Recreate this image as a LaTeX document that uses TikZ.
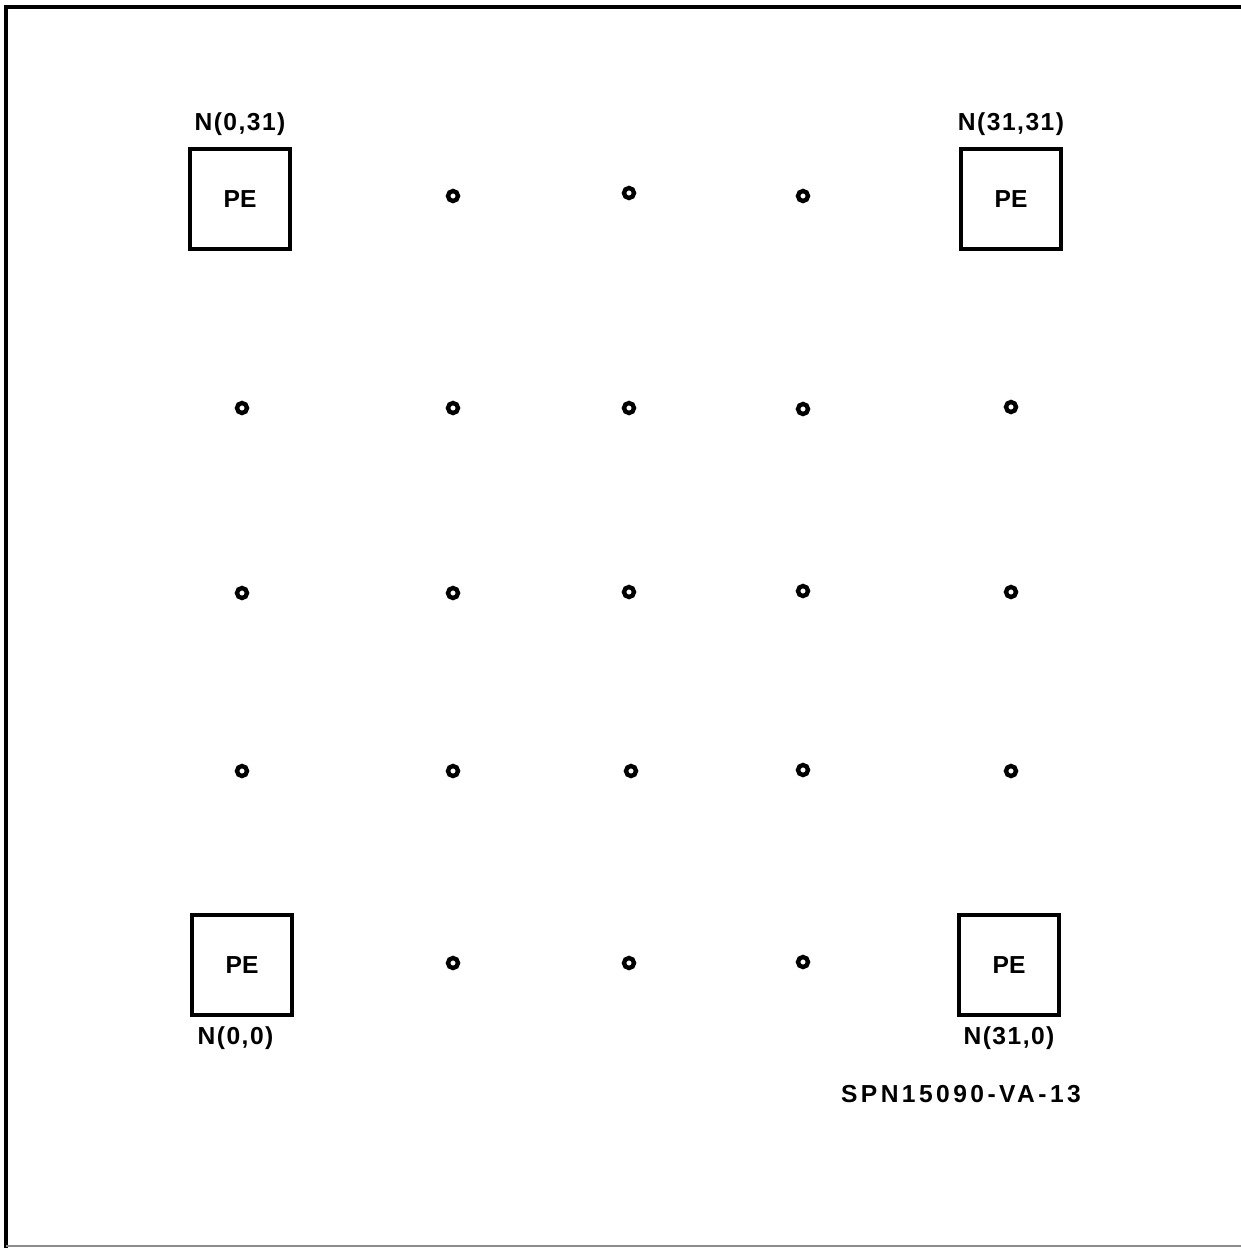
\documentclass[tikz,border=0pt]{standalone}
\usepackage{fontspec}
\setmainfont{Liberation Sans}
\usetikzlibrary{positioning}

\begin{document}
\begin{tikzpicture}[x=0.02cm,y=-0.02cm,
  pe/.style={draw,line width=2.6pt,minimum size=2cm,inner sep=0pt,font=\fontsize{14}{16}\selectfont\bfseries},
  dot/.style={draw,circle,line width=2.5pt,minimum size=0.2cm,inner sep=0pt},
  lbl/.style={font=\fontsize{14}{16}\selectfont\bfseries\addfontfeature{LetterSpace=6}},
  tag/.style={font=\fontsize{14}{16}\selectfont\bfseries\addfontfeature{LetterSpace=14}}]
\useasboundingbox (0,0) rectangle (1241,1248);
\draw[line width=2pt] (1241,7) -- (6,7) -- (6,1248);
\draw[black!45,line width=0.8pt] (6,1246) -- (1241,1246);
% corner processing elements
\node[pe] (pe0031) at (240,199) {PE};
\node[pe] (pe3131) at (1011,199) {PE};
\node[pe] (pe0000) at (242,965) {PE};
\node[pe] (pe3100) at (1009,965) {PE};
\node[lbl,above=3pt of pe0031] (n0031) {N(0,31)};
\node[lbl,above=3pt of pe3131] (n3131) {N(31,31)};
\node[lbl,below=2pt of pe0000.south west,anchor=north west,xshift=1pt] (n0000) {N(0,0)};
\node[lbl,below=2pt of pe3100] (n3100) {N(31,0)};
\node[tag] (fig) at (961,1094) {SPN15090-VA-13};
% remaining nodes of the array
\node[dot] (d1) at (453,196) {};
\node[dot] (d2) at (629,193) {};
\node[dot] (d3) at (803,196) {};
\node[dot] (d4) at (242,408) {};
\node[dot] (d5) at (453,408) {};
\node[dot] (d6) at (629,408) {};
\node[dot] (d7) at (803,409) {};
\node[dot] (d8) at (1011,407) {};
\node[dot] (d9) at (242,593) {};
\node[dot] (d10) at (453,593) {};
\node[dot] (d11) at (629,592) {};
\node[dot] (d12) at (803,591) {};
\node[dot] (d13) at (1011,592) {};
\node[dot] (d14) at (242,771) {};
\node[dot] (d15) at (453,771) {};
\node[dot] (d16) at (631,771) {};
\node[dot] (d17) at (803,770) {};
\node[dot] (d18) at (1011,771) {};
\node[dot] (d19) at (453,963) {};
\node[dot] (d20) at (629,963) {};
\node[dot] (d21) at (803,962) {};
\end{tikzpicture}
\end{document}
